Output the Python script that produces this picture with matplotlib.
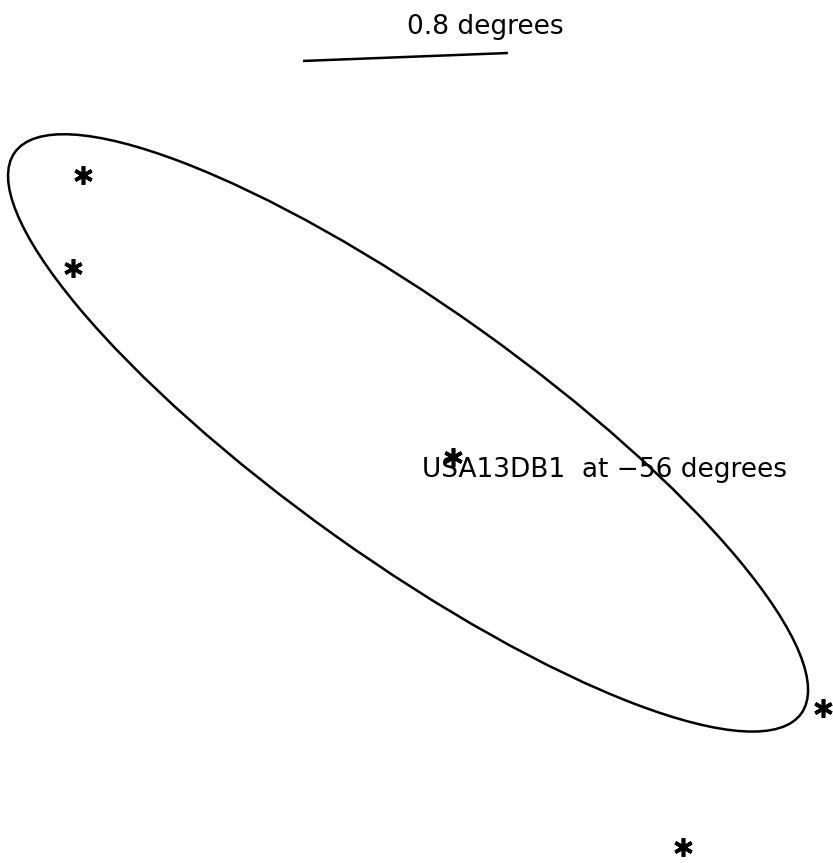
import numpy as np
import matplotlib
matplotlib.use("Agg")
import matplotlib.pyplot as plt
from matplotlib.patches import Ellipse

# Positions in degrees relative to the beam centre (x right, y up)
source_x = [-1.270, -1.309, 0.176, 1.621, 1.074]
source_y = [1.008, 0.645, -0.094, -1.074, -1.617]

# Beam contour: semi-axes in degrees, orientation in degrees
beam_semi_major = 1.887
beam_semi_minor = 0.492
beam_angle = -35.5
beam_label = "USA13DB1  at \u221256 degrees"

# Scale bar
scale_length = 0.8
scale_x0, scale_y0, scale_y1 = -0.410, 1.453, 1.484

fig = plt.figure(figsize=(8.33, 8.63), dpi=100)
ax = fig.add_axes([0, 0, 1, 1])
ax.set_xlim(-1.594, 1.660)
ax.set_ylim(-1.680, 1.691)
ax.set_aspect("equal", adjustable="box")
ax.axis("off")

ax.add_patch(Ellipse((0, 0), 2 * beam_semi_major, 2 * beam_semi_minor,
                     angle=beam_angle, fill=False, edgecolor="black", lw=1.8))

ax.plot(source_x, source_y, linestyle="none", marker=(6, 2, 0),
        markersize=13.5, markeredgewidth=2.6, color="black")

ax.plot([scale_x0, scale_x0 + scale_length], [scale_y0, scale_y1],
        color="black", lw=1.8, solid_capstyle="butt")
ax.text(-0.004, 1.559, f"{scale_length} degrees", fontsize=19,
        ha="left", va="baseline", family="DejaVu Sans")

ax.text(0.055, -0.172, beam_label, fontsize=19, ha="left", va="baseline",
        family="DejaVu Sans")

fig.savefig("out.png", dpi=100, facecolor="white")
